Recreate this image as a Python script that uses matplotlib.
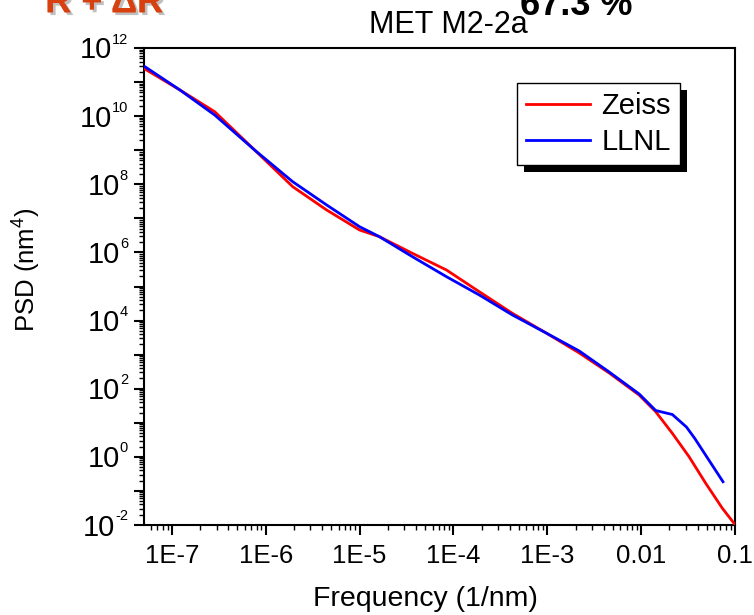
import matplotlib
matplotlib.use("Agg")
import matplotlib.pyplot as plt
from matplotlib.ticker import LogLocator, FixedLocator, FixedFormatter, NullFormatter
from matplotlib.patches import Rectangle
from matplotlib.transforms import IdentityTransform
import matplotlib.patheffects as pe

plt.rcParams['font.family'] = ['Liberation Sans', 'DejaVu Sans']
plt.rcParams['mathtext.fontset'] = 'custom'
plt.rcParams['mathtext.rm'] = 'Liberation Sans'
plt.rcParams['mathtext.it'] = 'Liberation Sans'

# ---- data ----
zeiss_freq = [5.16e-8, 1.22e-7, 2.86e-7, 7.63e-7, 1.94e-6, 4.46e-6, 1.0e-5, 1.63e-5,
              3.66e-5, 8.43e-5, 1.89e-4, 4.25e-4, 9.75e-4, 2.19e-3, 4.57e-3, 9.53e-3,
              1.43e-2, 2.15e-2, 3.24e-2, 4.88e-2, 7.33e-2, 0.0995]
zeiss_psd = [2.42e11, 5.85e10, 1.35e10, 1.01e9, 8.5e7, 1.76e7, 4.55e6, 2.89e6,
             9.4e5, 3.05e5, 7.0e4, 1.63e4, 4.3e3, 1.12e3, 289, 65,
             21.1, 4.9, 1.01, 0.167, 0.031, 0.0105]

llnl_freq = [5.16e-8, 1.22e-7, 2.86e-7, 7.63e-7, 1.94e-6, 4.46e-6, 1.0e-5, 1.63e-5,
             3.66e-5, 8.43e-5, 1.89e-4, 4.25e-4, 9.75e-4, 2.19e-3, 4.57e-3, 9.53e-3,
             1.43e-2, 2.15e-2, 3.04e-2, 3.72e-2, 7.45e-2]
llnl_psd = [2.83e11, 5.85e10, 1.08e10, 1.01e9, 1.19e8, 2.47e7, 5.69e6, 2.89e6,
            7.48e5, 1.94e5, 5.62e4, 1.46e4, 4.3e3, 1.28e3, 309, 70,
            22.9, 17.5, 7.5, 3.5, 0.186]

x_ticks = [1e-7, 1e-6, 1e-5, 1e-4, 1e-3, 1e-2, 1e-1]
x_labels = ['1E-7', '1E-6', '1E-5', '1E-4', '1E-3', '0.01', '0.1']
y_exponents = list(range(-2, 13))
y_label_exponents = [-2, 0, 2, 4, 6, 8, 10, 12]

fig = plt.figure(figsize=(7.54, 6.15), dpi=100)
ax = fig.add_axes([144/754, 1-525/615, 591/754, 477/615])

ax.plot(zeiss_freq, zeiss_psd, color='#ff0000', lw=2.0, label='Zeiss', zorder=3)
ax.plot(llnl_freq, llnl_psd, color='#0000ff', lw=2.0, label='LLNL', zorder=3)

ax.set_xscale('log')
ax.set_yscale('log')
ax.set_xlim(5.05e-8, 0.1)
ax.set_ylim(1e-2, 1e12)

ax.xaxis.set_major_locator(FixedLocator(x_ticks))
ax.xaxis.set_major_formatter(FixedFormatter(x_labels))
ax.xaxis.set_minor_locator(LogLocator(base=10, subs=range(2, 10), numticks=30))
ax.xaxis.set_minor_formatter(NullFormatter())

ax.yaxis.set_major_locator(FixedLocator([10.0**e for e in y_exponents]))
ax.yaxis.set_major_formatter(NullFormatter())
ax.yaxis.set_minor_locator(LogLocator(base=10, subs=range(2, 10), numticks=40))
ax.yaxis.set_minor_formatter(NullFormatter())

ax.tick_params(which='major', direction='out', length=7, width=1.5, top=False, right=False)
ax.tick_params(which='minor', direction='out', length=3.5, width=1.0, top=False, right=False)
ax.tick_params(axis='x', labelsize=18.5, pad=7)
for s in ax.spines.values():
    s.set_linewidth(1.5)

# y tick labels: "10" with a small exponent, Origin style
ytrans = ax.get_yaxis_transform()
for e in y_label_exponents:
    ex = ax.annotate(str(e), xy=(0, 10.0**e), xycoords=ytrans, xytext=(-16, 4.5),
                     textcoords='offset pixels', ha='right', va='baseline',
                     fontsize=10.5, annotation_clip=False)
    ax.annotate('10', xy=(0, 0), xycoords=ex, xytext=(0, -12),
                textcoords='offset pixels', ha='right', va='baseline',
                fontsize=21, annotation_clip=False)

ax.set_xlabel('Frequency (1/nm)', fontsize=20.5)
ax.xaxis.set_label_coords((425.5-144)/591, -0.127)
ax.set_ylabel('PSD (nm$^4$)', fontsize=18.5)
ax.yaxis.set_label_coords(-0.171, 0.535)

fig.text(448/754, 1-33/615, 'MET M2-2a', fontsize=22, ha='center', va='baseline')
fig.text(0.69, 0.975, '67.3 %', fontsize=26, fontweight='bold', color='black',
         ha='left', va='baseline')
fig.text(0.06, 0.98, 'R + ΔR', fontsize=26, fontweight='bold', color='#d9400f',
         ha='left', va='baseline',
         path_effects=[pe.withSimplePatchShadow(offset=(2, -2), shadow_rgbFace='gray', alpha=0.5),
                       pe.Normal()])

leg = ax.legend(loc='upper left', bbox_to_anchor=(0.631, 0.926), fontsize=21,
                frameon=True, fancybox=False, edgecolor='black', framealpha=1,
                handlelength=2.2, handletextpad=0.4, labelspacing=0.28, borderpad=0.3,
                borderaxespad=0)
leg.get_frame().set_linewidth(1.0)
leg.set_zorder(6)

fig.canvas.draw()
bb = leg.get_frame().get_window_extent()
shadow = Rectangle((bb.x0 + 7, bb.y0 - 7), bb.width, bb.height, transform=IdentityTransform(),
                   facecolor='black', edgecolor='none', zorder=5.5, clip_on=False)
ax.add_patch(shadow)

fig.savefig('out.png', dpi=100)
